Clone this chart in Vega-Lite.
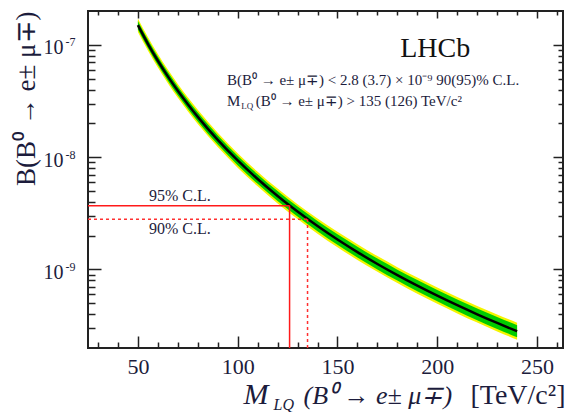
{
  "$schema": "https://vega.github.io/schema/vega-lite/v6.json",
  "width": 475,
  "height": 337,
  "autosize": {"type": "none"},
  "padding": {"left": 88, "top": 11, "right": 4, "bottom": 64},
  "config": {
    "view": {"stroke": "#222", "strokeWidth": 2},
    "font": "Liberation Serif",
    "axis": {"labelFont": "Liberation Serif", "titleFont": "Liberation Serif", "labelColor": "#1c1c3c", "titleColor": "#1c1c3c", "grid": false, "titleFontWeight": "normal", "labelFlush": false, "labelOverlap": false, "tickColor": "#222", "tickWidth": 1.5}
  },
  "datasets": {
    "curve": [
      {"M": 50, "B": 1.496e-7, "lo2": 1.303e-7, "hi2": 1.717e-7, "lo1": 1.371e-7, "hi1": 1.632e-7},
      {"M": 55, "B": 1.0218e-7, "lo2": 8.893e-8, "hi2": 1.174e-7, "lo1": 9.357e-8, "hi1": 1.1158e-7},
      {"M": 60, "B": 7.215e-8, "lo2": 6.274e-8, "hi2": 8.297e-8, "lo1": 6.601e-8, "hi1": 7.886e-8},
      {"M": 65, "B": 5.238e-8, "lo2": 4.551e-8, "hi2": 6.029e-8, "lo1": 4.788e-8, "hi1": 5.730e-8},
      {"M": 70, "B": 3.894e-8, "lo2": 3.377e-8, "hi2": 4.490e-8, "lo1": 3.556e-8, "hi1": 4.264e-8},
      {"M": 75, "B": 2.955e-8, "lo2": 2.561e-8, "hi2": 3.410e-8, "lo1": 2.696e-8, "hi1": 3.239e-8},
      {"M": 80, "B": 2.283e-8, "lo2": 1.977e-8, "hi2": 2.637e-8, "lo1": 2.081e-8, "hi1": 2.504e-8},
      {"M": 90, "B": 1.425e-8, "lo2": 1.232e-8, "hi2": 1.649e-8, "lo1": 1.295e-8, "hi1": 1.568e-8},
      {"M": 100, "B": 9.35e-9, "lo2": 8.067e-9, "hi2": 1.084e-8, "lo1": 8.485e-9, "hi1": 1.030e-8},
      {"M": 110, "B": 6.386e-9, "lo2": 5.496e-9, "hi2": 7.421e-9, "lo1": 5.784e-9, "hi1": 7.050e-9},
      {"M": 120, "B": 4.509e-9, "lo2": 3.874e-9, "hi2": 5.248e-9, "lo1": 4.077e-9, "hi1": 4.987e-9},
      {"M": 130, "B": 3.274e-9, "lo2": 2.808e-9, "hi2": 3.817e-9, "lo1": 2.955e-9, "hi1": 3.628e-9},
      {"M": 140, "B": 2.434e-9, "lo2": 2.084e-9, "hi2": 2.843e-9, "lo1": 2.193e-9, "hi1": 2.702e-9},
      {"M": 150, "B": 1.847e-9, "lo2": 1.577e-9, "hi2": 2.163e-9, "lo1": 1.659e-9, "hi1": 2.056e-9},
      {"M": 160, "B": 1.427e-9, "lo2": 1.217e-9, "hi2": 1.674e-9, "lo1": 1.280e-9, "hi1": 1.591e-9},
      {"M": 170, "B": 1.119e-9, "lo2": 9.523e-10, "hi2": 1.315e-9, "lo1": 1.0018e-9, "hi1": 1.250e-9},
      {"M": 180, "B": 8.907e-10, "lo2": 7.567e-10, "hi2": 1.0484e-9, "lo1": 7.960e-10, "hi1": 9.967e-10},
      {"M": 190, "B": 7.175e-10, "lo2": 6.081e-10, "hi2": 8.467e-10, "lo1": 6.401e-10, "hi1": 8.043e-10},
      {"M": 200, "B": 5.844e-10, "lo2": 4.944e-10, "hi2": 6.908e-10, "lo1": 5.204e-10, "hi1": 6.563e-10},
      {"M": 210, "B": 4.808e-10, "lo2": 4.061e-10, "hi2": 5.693e-10, "lo1": 4.270e-10, "hi1": 5.414e-10},
      {"M": 220, "B": 3.991e-10, "lo2": 3.365e-10, "hi2": 4.733e-10, "lo1": 3.538e-10, "hi1": 4.502e-10},
      {"M": 230, "B": 3.341e-10, "lo2": 2.810e-10, "hi2": 3.972e-10, "lo1": 2.957e-10, "hi1": 3.775e-10},
      {"M": 240, "B": 2.818e-10, "lo2": 2.366e-10, "hi2": 3.356e-10, "lo1": 2.489e-10, "hi1": 3.190e-10}
    ]
  },
  "resolve": {"scale": {"x": "shared", "y": "shared"}, "axis": {"x": "independent", "y": "independent"}},
  "layer": [
    {
      "data": {"name": "curve"},
      "mark": {"type": "area", "color": "#f5f500", "interpolate": "monotone"},
      "encoding": {
        "x": {"field": "M", "type": "quantitative", "scale": {"type": "linear", "domain": [25, 263], "nice": false, "zero": false},
          "axis": {"orient": "bottom", "values": [50, 100, 150, 200, 250], "ticks": false, "domain": false, "labelFontSize": 22, "labelBaseline": "alphabetic", "labelPadding": 25,
            "title": "M", "titleFontSize": 30, "titleFontStyle": "italic", "titleX": 155, "titleY": 55, "titleAlign": "left", "titleBaseline": "alphabetic"}},
        "y": {"field": "lo2", "type": "quantitative", "scale": {"type": "log", "domain": [2e-10, 2e-7], "nice": false},
          "axis": {"orient": "left", "values": [1e-9, 1e-8, 1e-7], "ticks": false, "domain": false, "labelExpr": "'10'", "labelFontSize": 20, "labelPadding": 25, "labelBaseline": "middle", "labelOffset": 3,
            "title": "B(B⁰ → e± μ∓)", "titleFontSize": 27, "titleAngle": -90, "titleAlign": "right", "titleBaseline": "alphabetic", "titleX": -54, "titleY": 0}},
        "y2": {"field": "hi2"}
      }
    },
    {
      "data": {"name": "curve"},
      "mark": {"type": "area", "color": "#00cc00", "interpolate": "monotone"},
      "encoding": {
        "x": {"field": "M", "type": "quantitative", "scale": {"type": "linear", "domain": [25, 263], "nice": false, "zero": false},
          "axis": {"orient": "bottom", "values": [50, 100, 150, 200, 250], "tickSize": -12, "labels": false, "domain": false,
            "title": "LQ", "titleFontSize": 16, "titleFontStyle": "italic", "titleX": 185, "titleY": 61, "titleAlign": "left", "titleBaseline": "alphabetic"}},
        "y": {"field": "lo1", "type": "quantitative", "scale": {"type": "log", "domain": [2e-10, 2e-7], "nice": false},
          "axis": {"orient": "left", "values": [1e-9, 1e-8, 1e-7], "ticks": false, "domain": false, "labelExpr": "'-' + round(-log(datum.value)/LN10)", "labelFontSize": 12, "labelPadding": 13, "labelBaseline": "middle", "labelOffset": -3, "title": null}},
        "y2": {"field": "hi1"}
      }
    },
    {
      "data": {"name": "curve"},
      "mark": {"type": "line", "color": "#000000", "strokeWidth": 2.5, "interpolate": "monotone"},
      "encoding": {
        "x": {"field": "M", "type": "quantitative", "scale": {"type": "linear", "domain": [25, 263], "nice": false, "zero": false},
          "axis": {"orient": "bottom", "values": [30, 40, 60, 70, 80, 90, 110, 120, 130, 140, 160, 170, 180, 190, 210, 220, 230, 240, 260], "tickSize": -6, "labels": false, "domain": false,
            "title": "(B⁰ → e± μ∓)", "titleFontSize": 26, "titleFontStyle": "italic", "titleX": 215, "titleY": 55, "titleAlign": "left", "titleBaseline": "alphabetic"}},
        "y": {"field": "B", "type": "quantitative", "scale": {"type": "log", "domain": [2e-10, 2e-7], "nice": false},
          "axis": {"orient": "left", "values": [1e-9, 1e-8, 1e-7], "tickSize": -13, "labels": false, "domain": false, "title": null}}
      }
    },
    {
      "data": {"values": [
        {"M": 25, "M2": 126, "B": 3.7e-9, "B2": 3.7e-9},
        {"M": 126, "M2": 126, "B": 2e-10, "B2": 3.7e-9}
      ]},
      "mark": {"type": "rule", "color": "#ff1a1a", "strokeWidth": 1.5},
      "encoding": {
        "x": {"field": "M", "type": "quantitative", "scale": {"type": "linear", "domain": [25, 263], "nice": false, "zero": false},
          "axis": {"orient": "top", "values": [50, 100, 150, 200, 250], "tickSize": -7, "labels": false, "domain": false, "title": null}},
        "x2": {"field": "M2"},
        "y": {"field": "B", "type": "quantitative", "scale": {"type": "log", "domain": [2e-10, 2e-7], "nice": false},
          "axis": {"orient": "left", "values": [3e-10, 4e-10, 5e-10, 6e-10, 7e-10, 8e-10, 9e-10, 2e-9, 3e-9, 4e-9, 5e-9, 6e-9, 7e-9, 8e-9, 9e-9, 2e-8, 3e-8, 4e-8, 5e-8, 6e-8, 7e-8, 8e-8, 9e-8], "tickSize": -7, "labels": false, "domain": false, "title": null}},
        "y2": {"field": "B2"}
      }
    },
    {
      "data": {"values": [
        {"M": 25, "M2": 135, "B": 2.8e-9, "B2": 2.8e-9},
        {"M": 135, "M2": 135, "B": 2e-10, "B2": 2.8e-9}
      ]},
      "mark": {"type": "rule", "color": "#ff3030", "strokeWidth": 1.5, "strokeDash": [3, 3]},
      "encoding": {
        "x": {"field": "M", "type": "quantitative", "scale": {"type": "linear", "domain": [25, 263], "nice": false, "zero": false},
          "axis": {"orient": "top", "values": [30, 40, 60, 70, 80, 90, 110, 120, 130, 140, 160, 170, 180, 190, 210, 220, 230, 240, 260], "tickSize": -4, "labels": false, "domain": false, "title": null}},
        "x2": {"field": "M2"},
        "y": {"field": "B", "type": "quantitative", "scale": {"type": "log", "domain": [2e-10, 2e-7], "nice": false},
          "axis": {"orient": "right", "values": [1e-9, 1e-8, 1e-7], "tickSize": -10, "labels": false, "domain": false, "title": null}},
        "y2": {"field": "B2"}
      }
    },
    {
      "data": {"values": [
        {"M": 71, "B": 4.07e-9, "t": "95% C.L."},
        {"M": 71, "B": 2.06e-9, "t": "90% C.L."}
      ]},
      "mark": {"type": "text", "font": "Liberation Serif", "fontSize": 16, "align": "center", "baseline": "alphabetic", "color": "#1c1c3c"},
      "encoding": {
        "x": {"field": "M", "type": "quantitative", "scale": {"type": "linear", "domain": [25, 263], "nice": false, "zero": false},
          "axis": {"orient": "bottom", "ticks": false, "labels": false, "domain": false,
            "title": "[TeV/c²]", "titleFontSize": 28, "titleX": 477, "titleY": 55, "titleAlign": "right", "titleBaseline": "alphabetic"}},
        "y": {"field": "B", "type": "quantitative", "scale": {"type": "log", "domain": [2e-10, 2e-7], "nice": false},
          "axis": {"orient": "right", "values": [3e-10, 4e-10, 5e-10, 6e-10, 7e-10, 8e-10, 9e-10, 2e-9, 3e-9, 4e-9, 5e-9, 6e-9, 7e-9, 8e-9, 9e-9, 2e-8, 3e-8, 4e-8, 5e-8, 6e-8, 7e-8, 8e-8, 9e-8], "tickSize": -5, "labels": false, "domain": false, "title": null}},
        "text": {"field": "t"}
      }
    },
    {
      "data": {"values": [{"M": 199, "B": 7.8e-8, "t": "LHCb"}]},
      "mark": {"type": "text", "font": "Liberation Serif", "fontSize": 28, "align": "center", "baseline": "alphabetic", "color": "#111"},
      "encoding": {
        "x": {"field": "M", "type": "quantitative", "scale": {"type": "linear", "domain": [25, 263], "nice": false, "zero": false}, "axis": null},
        "y": {"field": "B", "type": "quantitative", "scale": {"type": "log", "domain": [2e-10, 2e-7], "nice": false}, "axis": null},
        "text": {"field": "t"}
      }
    },
    {
      "data": {"values": [
        {"M": 94.6, "B": 4.4e-8, "t": "B(B⁰ → e± μ∓) < 2.8 (3.7) × 10⁻⁹ 90(95)% C.L."},
        {"M": 94.6, "B": 2.85e-8, "t": "M"},
        {"M": 109, "B": 2.85e-8, "t": "(B⁰ → e± μ∓) > 135 (126) TeV/c²"}
      ]},
      "mark": {"type": "text", "font": "Liberation Serif", "fontSize": 15, "align": "left", "baseline": "alphabetic", "color": "#1c1c3c"},
      "encoding": {
        "x": {"field": "M", "type": "quantitative", "scale": {"type": "linear", "domain": [25, 263], "nice": false, "zero": false}, "axis": null},
        "y": {"field": "B", "type": "quantitative", "scale": {"type": "log", "domain": [2e-10, 2e-7], "nice": false}, "axis": null},
        "text": {"field": "t"}
      }
    },
    {
      "data": {"values": [{"M": 101.8, "B": 2.68e-8, "t": "LQ"}]},
      "mark": {"type": "text", "font": "Liberation Serif", "fontSize": 9, "align": "left", "baseline": "alphabetic", "color": "#1c1c3c"},
      "encoding": {
        "x": {"field": "M", "type": "quantitative", "scale": {"type": "linear", "domain": [25, 263], "nice": false, "zero": false}, "axis": null},
        "y": {"field": "B", "type": "quantitative", "scale": {"type": "log", "domain": [2e-10, 2e-7], "nice": false}, "axis": null},
        "text": {"field": "t"}
      }
    }
  ]
}
